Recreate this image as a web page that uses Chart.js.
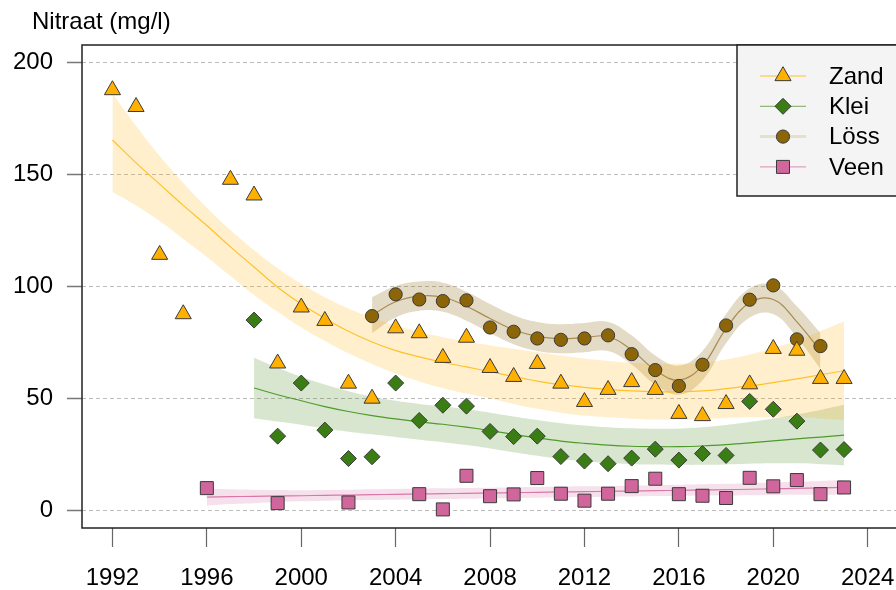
<!DOCTYPE html>
<html>
<head>
<meta charset="utf-8">
<script src="https://cdn.jsdelivr.net/npm/chart.js@4/dist/chart.umd.min.js"></script>
<style>
  html, body { margin: 0; padding: 0; background: #fff; }
  #wrap { width: 896px; height: 590px; }
</style>
</head>
<body>
<div id="wrap"><canvas id="chart" width="896" height="590"></canvas></div>
<script>
'use strict';

// measurements
const zandYears = [1992, 1993, 1994, 1995, 1997, 1998, 1999, 2000, 2001, 2002, 2003, 2004, 2005, 2006, 2007, 2008,
  2009, 2010, 2011, 2012, 2013, 2014, 2015, 2016, 2017, 2018, 2019, 2020, 2021, 2022, 2023];
const zandValues = [187.5, 180, 114, 87.5, 147.5, 140.5, 65.5, 90.5, 84.5, 56.5, 49.8, 81.2, 79, 68, 77, 63.5,
  59.5, 65.3, 56.5, 48.3, 53.7, 57.2, 53.7, 43, 42, 47.4, 56.2, 72, 71.2, 58.6, 58.6];

const kleiYears = [1998, 1999, 2000, 2001, 2002, 2003, 2004, 2005, 2006, 2007, 2008, 2009, 2010, 2011, 2012, 2013,
  2014, 2015, 2016, 2017, 2018, 2019, 2020, 2021, 2022, 2023];
const kleiValues = [84.8, 33, 56.7, 35.7, 23, 23.8, 56.7, 40, 46.8, 46.4, 35.1, 32.8, 33, 23.9, 21.9, 20.7,
  23.2, 27.2, 22.3, 25.2, 24.4, 48.5, 45, 39.7, 26.8, 27];

const lossYears = [2003, 2004, 2005, 2006, 2007, 2008, 2009, 2010, 2011, 2012, 2013, 2014, 2015, 2016, 2017, 2018,
  2019, 2020, 2021, 2022];
const lossValues = [86.6, 96.3, 94, 93.3, 93.6, 81.5, 79.6, 76.6, 76, 76.6, 78, 69.6, 62.5, 55.4, 64.9, 82.4,
  93.9, 100.3, 76.2, 73.2];

const veenYears = [1996, 1999, 2002, 2005, 2006, 2007, 2008, 2009, 2010, 2011, 2012, 2013, 2014, 2015, 2016, 2017,
  2018, 2019, 2020, 2021, 2022, 2023];
const veenValues = [9.8, 3.1, 3.4, 7.1, 0.3, 15.3, 6.2, 7, 14.3, 7.3, 4.2, 7.3, 10.7, 14, 7.1, 6.4,
  5.4, 14.4, 10.6, 13.4, 7.1, 10.1];

// smoothed trends with their bands
const zandFitYears = [1992, 1993, 1994, 1995, 1996, 1997, 1998, 1999, 2000, 2001, 2002, 2003, 2004, 2005, 2006, 2007,
  2008, 2009, 2010, 2011, 2012, 2013, 2014, 2015, 2016, 2017, 2018, 2019, 2020, 2021, 2022, 2023];
const zandFit = [165.2, 155, 145.5, 136, 127, 117.5, 108.5, 99.5, 92, 85.6, 79.8, 75, 71.2, 68.4, 66, 63.9,
  61.8, 59.6, 57.6, 56, 54.8, 53.9, 53.2, 52.8, 52.8, 53.2, 54.2, 55.4, 56.9, 58.6, 60.4, 62.2];
const zandUpper = [186, 171.5, 158, 146, 135, 125, 116, 108, 101, 95, 90, 86, 82.5, 79.5, 77.2, 75.2,
  73.5, 72, 70.5, 69, 67.7, 66.6, 65.8, 65.3, 65.3, 65.7, 67.2, 69.4, 72.4, 75.6, 79.9, 84.2];
const zandLower = [142, 136, 129, 121, 113, 104.5, 96, 88.5, 81.5, 75.5, 70, 65.2, 61, 57.4, 54.4, 52,
  49.8, 47.4, 45.2, 43.5, 42.2, 41.4, 40.8, 40.4, 40.3, 40.6, 41.1, 41.4, 41.4, 41.6, 40.9, 40.2];

const kleiFitYears = [1998, 1999, 2000, 2001, 2002, 2003, 2004, 2005, 2006, 2007, 2008, 2009, 2010, 2011, 2012, 2013,
  2014, 2015, 2016, 2017, 2018, 2019, 2020, 2021, 2022, 2023];
const kleiFit = [54.5, 51.5, 48.8, 46.2, 44, 42.2, 40.7, 39.4, 38.3, 37, 35.5, 33.8, 32.2, 30.8, 29.8, 29,
  28.5, 28.3, 28.3, 28.6, 29.2, 30, 30.9, 31.8, 32.6, 33.5];
const kleiUpper = [68, 63.5, 59.5, 56, 53, 50.6, 48.8, 47.4, 46.3, 45, 43.5, 41.8, 40.2, 38.8, 37.8, 37,
  36.5, 36.3, 36.4, 37, 38, 39.3, 40.9, 42.7, 44.7, 47];
const kleiLower = [41, 39.5, 38.1, 36.4, 35, 33.8, 32.6, 31.4, 30.3, 29, 27.5, 25.8, 24.2, 22.8, 21.8, 21,
  20.5, 20.3, 20.2, 20.2, 20.4, 20.7, 20.9, 20.9, 20.5, 20];

const lossFitYears = [2003, 2004, 2005, 2006, 2007, 2008, 2009, 2010, 2011, 2012, 2013, 2014, 2015, 2016, 2017, 2018,
  2019, 2020, 2021, 2022];
const lossFit = [87, 93, 95.5, 95, 91, 85.5, 80.5, 77.5, 76.5, 77, 77.5, 71.5, 62.5, 58, 64.5, 81,
  92.5, 94, 84, 71];
const lossUpper = [95, 100, 102, 101.5, 97.5, 92, 87, 84, 83, 83.5, 84, 78, 69, 64.5, 71, 87.5,
  99, 100.5, 91, 79];
const lossLower = [79, 86, 89, 88.5, 84.5, 79, 74, 71, 70, 70.5, 71, 65, 56, 51.5, 58, 74.5,
  86, 87.5, 77, 63];

const veenFitYears = [1996, 1997, 1998, 1999, 2000, 2001, 2002, 2003, 2004, 2005, 2006, 2007, 2008, 2009, 2010, 2011,
  2012, 2013, 2014, 2015, 2016, 2017, 2018, 2019, 2020, 2021, 2022, 2023];
const veenFit = [5.8, 6, 6.1, 6.3, 6.4, 6.6, 6.7, 6.9, 7, 7.2, 7.3, 7.5, 7.6, 7.8, 7.9, 8.1,
  8.2, 8.4, 8.5, 8.7, 8.8, 9, 9.1, 9.3, 9.5, 9.7, 9.9, 10.1];
const veenUpper = [9.5, 9.3, 9.1, 9, 8.9, 9, 9.1, 9.3, 9.4, 9.6, 9.7, 9.9, 10, 10.2, 10.3, 10.5,
  10.6, 10.8, 10.9, 11.1, 11.3, 11.5, 11.7, 12, 12.3, 12.6, 13, 13.4];
const veenLower = [2, 2.7, 3.1, 3.6, 3.9, 4.2, 4.3, 4.5, 4.6, 4.8, 4.9, 5.1, 5.2, 5.4, 5.5, 5.7,
  5.8, 6, 6.1, 6.3, 6.3, 6.5, 6.5, 6.6, 6.7, 6.8, 6.8, 6.8];

const xTicks = [1992, 1996, 2000, 2004, 2008, 2012, 2016, 2020, 2024];
const yTicks = [0, 50, 100, 150, 200];

const yTitle = 'Nitraat (mg/l)';
const FONT = '"Liberation Sans", Arial, sans-serif';

const series = [
  {label: 'Zand', years: zandYears, values: zandValues, fitYears: zandFitYears, fit: zandFit, upper: zandUpper, lower: zandLower,
    marker: 'triangle', radius: 9.3, fill: '#ffb000', line: '#ffc229', band: 'rgba(255, 176, 0, 0.2)', legendLine: '#ffc229', legendWidth: 1},
  {label: 'Klei', years: kleiYears, values: kleiValues, fitYears: kleiFitYears, fit: kleiFit, upper: kleiUpper, lower: kleiLower,
    marker: 'rectRot', radius: 8, fill: '#3a7d14', line: '#4f9a2a', band: 'rgba(58, 128, 16, 0.2)', legendLine: '#7aa860', legendWidth: 1},
  {label: 'Löss', years: lossYears, values: lossValues, fitYears: lossFitYears, fit: lossFit, upper: lossUpper, lower: lossLower,
    marker: 'circle', radius: 6.6, fill: '#8b6508', line: '#a88c50', band: 'rgba(139, 101, 8, 0.23)', legendLine: '#e6dfcc', legendWidth: 3},
  {label: 'Veen', years: veenYears, values: veenValues, fitYears: veenFitYears, fit: veenFit, upper: veenUpper, lower: veenLower,
    marker: 'rect', radius: 9.2, fill: '#d0669c', line: '#d878a8', band: 'rgba(208, 102, 156, 0.2)', legendLine: '#e08ab5', legendWidth: 1}
];

const toPoints = (xs, ys) => xs.map((x, i) => ({x: x, y: ys[i]}));

const datasets = [];

series.forEach(s => {
  datasets.push({
    label: s.label,
    data: toPoints(s.years, s.values),
    showLine: false,
    pointStyle: s.marker,
    pointRadius: s.radius,
    pointBackgroundColor: s.fill,
    pointBorderColor: '#3a3a3a',
    pointBorderWidth: 1,
    order: 1
  });
});

series.forEach(s => {
  datasets.push({
    label: s.label + ' trend',
    data: toPoints(s.fitYears, s.fit),
    borderColor: s.line,
    borderWidth: 1.2,
    pointRadius: 0,
    tension: 0.4,
    fill: false,
    order: 2
  });
});

series.forEach(s => {
  const lowerIndex = datasets.length;
  datasets.push({
    label: s.label + ' lower',
    data: toPoints(s.fitYears, s.lower),
    borderWidth: 0,
    borderColor: 'rgba(0,0,0,0)',
    pointRadius: 0,
    tension: 0.4,
    fill: false,
    order: 3
  });
  datasets.push({
    label: s.label + ' upper',
    data: toPoints(s.fitYears, s.upper),
    borderWidth: 0,
    borderColor: 'rgba(0,0,0,0)',
    backgroundColor: s.band,
    pointRadius: 0,
    tension: 0.4,
    fill: {target: lowerIndex},
    order: 3
  });
});

// frame, title and legend
const decorations = {
  id: 'decorations',
  afterDatasetsDraw(chart) {
    const {ctx, chartArea} = chart;
    ctx.save();
    ctx.strokeStyle = '#222';
    ctx.lineWidth = 1.5;
    ctx.strokeRect(chartArea.left, chartArea.top, chartArea.right - chartArea.left + 10, chartArea.bottom - chartArea.top);
    ctx.restore();
  },
  afterDraw(chart) {
    const ctx = chart.ctx;
    ctx.save();

    ctx.fillStyle = '#000';
    ctx.font = '24px ' + FONT;
    ctx.textBaseline = 'alphabetic';
    ctx.textAlign = 'left';
    ctx.fillText(yTitle, 32, 29);

    ctx.fillStyle = '#f4f4f4';
    ctx.fillRect(737, 45, 170, 151);
    ctx.strokeStyle = '#222';
    ctx.lineWidth = 1.5;
    ctx.strokeRect(737, 45, 170, 151);

    series.forEach((s, i) => {
      const y = 76 + i * 30.3;
      ctx.strokeStyle = s.legendLine;
      ctx.lineWidth = s.legendWidth;
      ctx.beginPath();
      ctx.moveTo(760, y);
      ctx.lineTo(806, y);
      ctx.stroke();

      ctx.fillStyle = s.fill;
      ctx.strokeStyle = '#3a3a3a';
      ctx.lineWidth = 1;
      Chart.helpers.drawPoint(ctx, {pointStyle: s.marker, radius: s.radius, borderWidth: 1, rotation: 0}, 783, y);

      ctx.fillStyle = '#000';
      ctx.font = '24px ' + FONT;
      ctx.textBaseline = 'middle';
      ctx.fillText(s.label, 829, y + 1);
    });

    ctx.restore();
  }
};

const ctx = document.querySelector('#chart').getContext('2d');

const myChart = new Chart(ctx, {
  type: 'line',
  data: {datasets: datasets},
  plugins: [decorations],
  options: {
    responsive: false,
    devicePixelRatio: 1,
    animation: false,
    layout: {
      autoPadding: false,
      padding: {top: 45, right: 0, left: 0, bottom: 0}
    },
    scales: {
      x: {
        type: 'linear',
        min: 1990.71,
        max: 2025.2,
        afterBuildTicks: scale => {
          scale.ticks = xTicks.map(v => ({value: v}));
        },
        afterFit: scale => {
          scale.height = 62;
          scale.paddingLeft = 0;
          scale.paddingRight = 0;
        },
        border: {display: false},
        grid: {
          drawOnChartArea: false,
          drawTicks: true,
          tickLength: 19,
          tickColor: '#666',
          tickWidth: 1.2
        },
        ticks: {
          color: '#000',
          padding: 17,
          maxRotation: 0,
          font: {family: FONT, size: 24},
          callback: v => String(v)
        }
      },
      y: {
        min: -8,
        max: 207.6,
        afterBuildTicks: scale => {
          scale.ticks = yTicks.map(v => ({value: v}));
        },
        afterFit: scale => {
          scale.width = 82;
        },
        border: {display: false, dash: [4, 3]},
        grid: {
          color: '#bdbdbd',
          lineWidth: 1,
          drawTicks: true,
          tickLength: 15,
          tickColor: '#777',
          tickWidth: 1.5,
          tickBorderDash: []
        },
        ticks: {
          color: '#000',
          padding: 14,
          font: {family: FONT, size: 24},
          callback: v => String(v)
        }
      }
    },
    plugins: {
      legend: {display: false},
      title: {display: false},
      tooltip: {enabled: false}
    }
  }
});
</script>
</body>
</html>
